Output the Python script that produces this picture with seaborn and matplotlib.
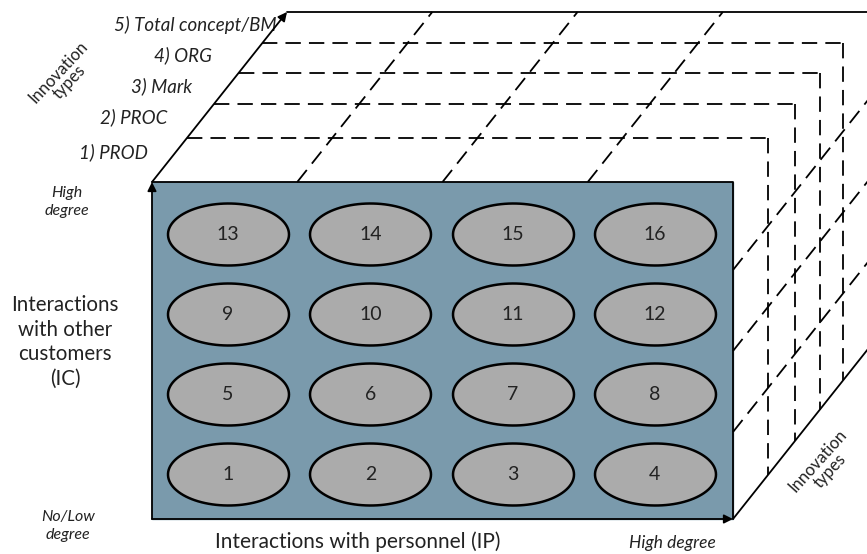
import numpy as np
import pandas as pd
import matplotlib
matplotlib.use("Agg")
import matplotlib.pyplot as plt
from matplotlib.path import Path
import seaborn as sns

# cells of the IP x IC matrix
ip_level = [1, 2, 3, 4] * 4
ic_level = [1] * 4 + [2] * 4 + [3] * 4 + [4] * 4
cell_ids = list(range(1, 17))

# innovation types (depth axis)
innovation_types = ["1) PROD", "2) PROC", "3) Mark", "4) ORG", "5) Total concept/BM"]

# --- layout (pixel space of an 867x554 canvas) ---
W, H = 867, 554
x0, x1 = 152, 733          # front face left/right
y0, y1 = 519, 182          # front face bottom/top
dx, dy = 135, -170         # depth offset
band_y = [182, 138, 104, 73, 43, 12]   # top face band edges
label_y = [152, 117, 86, 55, 25]
label_xr = [148, 167, 192, 212, 277]

FRONT = "#7a9aac"
CELL = "#ababab"
TXT = "#222222"
DASH = (0, (8.5, 4.5))

sns.set_theme(style="white")
plt.rcParams["font.family"] = ["Lato", "DejaVu Sans"]

fig = plt.figure(figsize=(W / 100, H / 100), dpi=100)
ax = fig.add_axes([0, 0, 1, 1])

# front face
ax.fill([x0, x1, x1, x0], [y0, y0, y1, y1], color=FRONT, zorder=1)
ax.plot([x0, x1, x1], [y1, y1, y0], color="black", lw=1.3, zorder=3)

arrow = dict(arrowstyle="-|>", color="black", lw=1.3, mutation_scale=13,
             shrinkA=0, shrinkB=0)
ax.annotate("", xy=(x0, y1), xytext=(x0, y0), arrowprops=arrow, zorder=4)
ax.annotate("", xy=(x1, y0), xytext=(x0, y0), arrowprops=arrow, zorder=4)
ax.annotate("", xy=(x0 + dx, y1 + dy), xytext=(x0, y1), arrowprops=arrow, zorder=4)
ax.annotate("", xy=(x1 + dx, y1 + dy), xytext=(x1, y1), arrowprops=arrow, zorder=4)

# back edge of top face, bottom diagonal of right face
ax.plot([x0 + dx, W + 5], [y1 + dy, y1 + dy], color="black", lw=1.3)
ax.plot([x1, x1 + dx], [y0, y0 + dy], color="black", lw=1.3)

k = dx / -dy
# top-face bands and their drop lines on the right face
for yb in band_y[1:-1]:
    xl = x0 + (y1 - yb) * k
    xr = x1 + (y1 - yb) * k
    ax.plot([xl, xr], [yb, yb], color="black", lw=1.3, ls=DASH)
    yb_bottom = y0 - (xr - x1) / k
    ax.plot([xr, xr], [yb, yb_bottom], color="black", lw=1.3, ls=DASH)

# top-face column dividers
col_w = (x1 - x0) / 4
for i in range(1, 4):
    xs = x0 + i * col_w
    ax.plot([xs, xs + dx], [y1, y1 + dy], color="black", lw=1.3, ls=DASH)

# right-face row dividers
for yr in [270, 351, 432]:
    ax.plot([x1, x1 + dx], [yr, yr + dy], color="black", lw=1.3, ls=DASH)

# cells as ellipses
df = pd.DataFrame({"ip": ip_level, "ic": ic_level, "cell": cell_ids})
df["x"] = 228 + (df["ip"] - 1) * 142.3
df["y"] = 474 - (df["ic"] - 1) * 80
t = np.linspace(0, 2 * np.pi, 100)
ell = Path(np.column_stack([np.cos(t) * 121 / 62, np.sin(t)]), closed=True)
sns.scatterplot(data=df, x="x", y="y", marker=ell, s=(121 * 0.72) ** 2,
                color=CELL, edgecolor="black", linewidth=1.8, ax=ax, zorder=5,
                legend=False)
for x, y, c in zip(df["x"], df["y"], df["cell"]):
    ax.text(x, y, str(int(c)), ha="center", va="center",
            fontsize=14, color=TXT, zorder=6)

ax.set_xlim(0, W)
ax.set_ylim(H, 0)
ax.axis("off")

# innovation type labels
for lab, ly, lx in zip(innovation_types, label_y, label_xr):
    ax.text(lx, ly, lab, ha="right", va="center", fontsize=13.5,
            style="italic", color=TXT)

ax.text(64, 77, "Innovation\ntypes", ha="center", va="center", rotation=47,
        fontsize=12, color=TXT, linespacing=1.0)
ax.text(824, 466, "Innovation\ntypes", ha="center", va="center", rotation=48,
        fontsize=12, color=TXT, linespacing=1.0)

ax.text(67, 202, "High\ndegree", ha="center", va="center", style="italic",
        fontsize=11.5, color=TXT, linespacing=1.3)
ax.text(68, 526, "No/Low\ndegree", ha="center", va="center", style="italic",
        fontsize=11.5, color=TXT, linespacing=1.3)
ax.text(672, 543, "High degree", ha="center", va="center", style="italic",
        fontsize=12.5, color=TXT)

ax.text(65, 342, "Interactions\nwith other\ncustomers\n(IC)", ha="center",
        va="center", fontsize=14.8, color=TXT, linespacing=1.3)
ax.text(358, 542, "Interactions with personnel (IP)", ha="center",
        va="center", fontsize=15, color=TXT)

fig.savefig("out.png", dpi=100)
